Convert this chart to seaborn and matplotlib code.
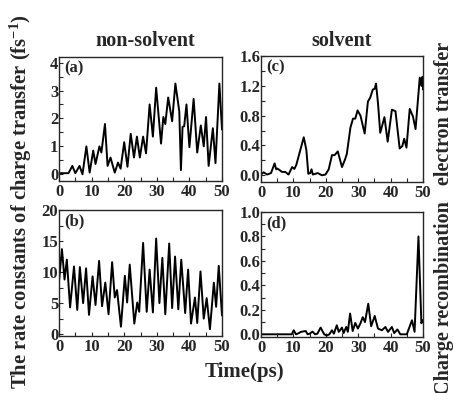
import numpy as np
import pandas as pd
import matplotlib
matplotlib.use("Agg")
import matplotlib.pyplot as plt
import seaborn as sns
from matplotlib.ticker import MultipleLocator

# --- DATA (peaks and troughs) ---
t_a = [0, 2.9, 4.1, 5.0, 6.3, 7.2, 8.4, 9.4, 10.5, 11.2, 12.4, 13.0, 14.1, 14.9, 15.8,
       17.1, 18.1, 18.9, 20.0, 21.0, 22.0, 23.0, 23.9, 24.8, 25.8, 26.7, 27.8, 28.8,
       29.8, 31.3, 32.0, 32.6, 33.5, 34.7, 35.7, 36.9, 37.4, 37.9, 38.4, 39.1, 40.0,
       41.3, 42.4, 43.5, 44.4, 45.1, 45.9, 47.2, 48.0, 49.2, 50.0]
k_a = [0.04, 0.04, 0.3, 0.04, 0.3, 0.0, 1.0, 0.06, 0.85, 0.37, 1.0, 0.78, 1.8, 0.3, 0.6,
       0.06, 0.42, 0.2, 1.15, 0.27, 1.45, 0.6, 1.35, 0.6, 1.35, 0.75, 2.5, 1.35,
       3.1, 1.1, 2.05, 1.8, 2.75, 1.9, 3.25, 2.25, 0.15, 1.7, 1.72, 2.5, 0.97,
       2.7, 0.78, 1.75, 1.0, 2.05, 0.3, 1.65, 0.4, 3.25, 1.6]

t_b = [0, 0.9, 1.7, 2.4, 3.4, 4.6, 5.6, 6.4, 7.4, 8.3, 9.2, 10.3, 11.2, 12.3, 13.2,
       14.2, 15.2, 16.3, 17.1, 17.8, 19.0, 20.2, 20.9, 21.7, 23.1, 24.0, 24.6, 25.8,
       26.9, 27.8, 28.8, 29.8, 30.8, 31.7, 32.6, 33.8, 34.7, 35.6, 36.6, 37.5, 38.7,
       39.6, 40.5, 41.7, 42.4, 43.4, 44.4, 45.3, 46.3, 47.5, 48.2, 49.0, 50.0]
k_b = [8.5, 13.7, 8.8, 12.0, 4.3, 10.9, 3.9, 10.8, 5.0, 10.6, 3.1, 9.3, 4.7, 11.8, 4.5,
       8.3, 3.2, 11.6, 5.9, 7.1, 1.2, 9.4, 5.1, 11.2, 1.7, 5.1, 3.6, 14.7,
       3.6, 10.4, 3.5, 15.4, 5.0, 12.3, 3.2, 14.6, 4.2, 12.5, 4.0, 12.0, 3.4,
       10.4, 1.7, 5.9, 1.8, 10.1, 2.5, 5.8, 0.8, 8.3, 4.4, 11.0, 3.0]

t_c = [0, 0.8, 1.9, 3.1, 4.2, 4.7, 5.1, 6.5, 7.5, 8.5, 9.6, 10.3, 10.9, 13.2, 14.0,
       14.6, 15.2, 15.6, 16.0, 17.5, 18.8, 19.9, 20.9, 21.9, 22.7, 23.7, 25.0, 26.0,
       26.5, 27.6, 28.4, 29.1, 29.8, 30.7, 32.0, 33.0, 33.7, 34.5, 35.1, 35.5, 36.1,
       36.8, 38.1, 39.1, 40.4, 41.5, 42.8, 43.6, 44.2, 44.9, 45.9, 46.9, 47.7, 49.0,
       49.5, 49.8, 50.0]
k_c = [0.01, 0.04, 0.01, 0.03, 0.16, 0.08, 0.09, 0.045, 0.045, 0.01, 0.11, 0.085, 0.14,
       0.51, 0.34, 0.02, 0.03, 0.08, 0.01, 0.03, 0.0, 0.01, 0.08, 0.27, 0.27, 0.32,
       0.11, 0.22, 0.29, 0.64, 0.76, 0.76, 0.87, 0.80, 0.56, 0.99, 1.04, 1.15, 1.16,
       1.23, 0.97, 0.57, 0.78, 0.45, 0.88, 0.86, 0.36, 0.39, 0.49, 0.37, 0.89, 0.79,
       0.62, 1.31, 1.2, 1.32, 1.15]

t_d = [0, 9.5, 10.1, 10.8, 11.7, 12.3, 13.8, 14.4, 15.0, 15.9, 16.7, 17.4, 18.4, 19.5,
       20.3, 21.1, 21.9, 22.5, 23.4, 24.0, 25.0, 25.5, 26.3, 26.8, 27.5, 28.3, 29.1,
       29.9, 30.7, 31.4, 32.1, 33.1, 34.0, 35.1, 36.1, 37.3, 38.4, 39.2, 40.4, 41.1,
       42.1, 43.0, 45.0, 46.6, 47.4, 48.6, 49.5, 49.9]
k_d = [0.0, 0.0, 0.033, 0.0, 0.01, 0.02, 0.027, 0.0, 0.005, 0.022, 0.0, 0.005, 0.055,
       0.0, -0.01, 0.0, 0.033, 0.005, 0.074, 0.02, 0.055, 0.01, 0.06, 0.02, 0.17, 0.027,
       0.093, 0.047, 0.09, 0.14, 0.1, 0.25, 0.066, 0.15, 0.047, 0.033, 0.06, 0.02, 0.06,
       0.01, 0.04, 0.0, 0.0, 0.115, 0.02, 0.80, 0.09, 0.115]

# --- STYLE ---
sns.set_style("ticks")
plt.rcParams['font.family'] = ['Liberation Serif', 'DejaVu Serif']
plt.rcParams['font.weight'] = 'bold'
plt.rcParams['axes.labelweight'] = 'bold'
plt.rcParams['mathtext.fontset'] = 'custom'
plt.rcParams['mathtext.rm'] = 'Liberation Serif:bold'
plt.rcParams['mathtext.default'] = 'rm'

fig = plt.figure(figsize=(4.53, 3.93), dpi=100)
W, H = 453, 393

def add_ax(x0, x1, y0, y1):
    return fig.add_axes([x0 / W, 1 - y1 / H, (x1 - x0) / W, (y1 - y0) / H])

panels = [
    (add_ax(59, 222, 57, 181), t_a, k_a, (-0.24, 4.2), 1, 0.5, "(a)", "{:.0f}"),
    (add_ax(261, 423, 56, 182), t_c, k_c, (-0.09, 1.6), 0.4, 0.2, "(c)", "{:.1f}"),
    (add_ax(59, 222, 210, 336), t_b, k_b, (-0.3, 20), 5, 2.5, "(b)", "{:.0f}"),
    (add_ax(261, 423, 212, 337), t_d, k_d, (-0.022, 1.0), 0.2, 0.1, "(d)", "{:.1f}"),
]

for ax, t, k, ylim, ymaj, ymin, lab, fmt in panels:
    d = pd.DataFrame({"t": t, "k": k})
    sns.lineplot(data=d, x="t", y="k", ax=ax, color="black", lw=1.4)
    ax.set_xlim(0, 50)
    ax.set_ylim(*ylim)
    ax.xaxis.set_major_locator(MultipleLocator(10))
    ax.xaxis.set_minor_locator(MultipleLocator(5))
    ax.yaxis.set_major_locator(MultipleLocator(ymaj))
    ax.yaxis.set_minor_locator(MultipleLocator(ymin))
    ax.yaxis.set_major_formatter(matplotlib.ticker.FuncFormatter(lambda v, p, f=fmt: f.format(v)))
    ax.tick_params(which="both", direction="in", length=3, width=0.8, labelsize=12)
    ax.tick_params(axis="x", pad=2.5)
    ax.tick_params(axis="y", pad=0.5)
    for s in ax.spines.values():
        s.set_linewidth(1.0)
    ax.set_xlabel("")
    ax.set_ylabel("")
    ax.text(0.03, 0.97, lab, transform=ax.transAxes, ha="left", va="top",
            fontsize=12, fontweight="bold")
    for tl in ax.get_xticklabels() + ax.get_yticklabels():
        tl.set_fontweight("bold")

fig.text(145 / W, 1 - 41 / H, "non-solvent", ha="center", va="center", fontsize=14.5, fontweight="bold")
fig.text(342 / W, 1 - 41 / H, "solvent", ha="center", va="center", fontsize=14.5, fontweight="bold")
fig.text(244 / W, 1 - 372 / H, "Time(ps)", ha="center", va="center", fontsize=15, fontweight="bold")
fig.text(21 / W, 1 - 202 / H, "The rate constants of charge transfer (fs$^{-1}$)", rotation=90,
         ha="center", va="center", fontsize=14.8, fontweight="bold")
fig.text(444 / W, 1 - 113 / H, "electron transfer", rotation=90,
         ha="center", va="center", fontsize=14.5, fontweight="bold")
fig.text(444 / W, 1 - 298 / H, "Charge recombination", rotation=90,
         ha="center", va="center", fontsize=14.5, fontweight="bold")

fig.savefig("out.png", dpi=100)
